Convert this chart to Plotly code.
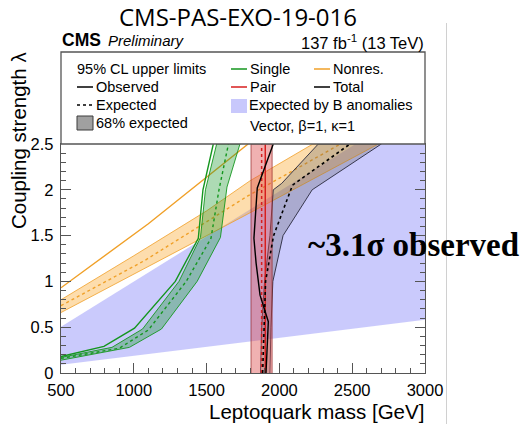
import plotly.graph_objects as go

# ---------------- data ----------------
# B-anomaly expected region (straight edges)
banom_x = [500, 3000]
banom_lo = [0.09, 0.58]
banom_hi = [0.505, 2.97]

# Non-resonant
nonres_obs_x = [500, 1100, 1785]
nonres_obs_y = [0.93, 1.63, 2.5]
nonres_exp_x = [500, 1077, 1780, 2420]
nonres_exp_y = [0.735, 1.23, 1.93, 2.5]
nonres_band_hi_x = [500, 1000, 1500, 1800, 2230]
nonres_band_hi_y = [0.80, 1.28, 1.77, 2.10, 2.5]
nonres_band_lo_x = [500, 1764, 2680]
nonres_band_lo_y = [0.66, 1.72, 2.5]

# Single production
single_obs_x = [500, 795, 1005, 1285, 1443, 1475, 1546]
single_obs_y = [0.18, 0.29, 0.49, 1.0, 1.47, 2.0, 2.5]
single_exp_x = [500, 900, 1100, 1360, 1530, 1585, 1650]
single_exp_y = [0.16, 0.27, 0.47, 1.0, 1.47, 2.0, 2.5]
single_band_in_x = [500, 850, 1060, 1310, 1458, 1492, 1569]
single_band_in_y = [0.17, 0.28, 0.48, 1.0, 1.48, 2.0, 2.5]
single_band_out_x = [500, 970, 1190, 1435, 1595, 1640, 1729]
single_band_out_y = [0.14, 0.28, 0.48, 1.0, 1.48, 2.03, 2.5]

# Pair production (independent of lambda)
pair_lam = [0, 2.5]
pair_obs_m = 1903
pair_exp_m = 1878
pair_band_lo_m = 1805
pair_band_hi_m = 1950

# Total
total_obs_x = [1908, 1913, 1924, 1867, 1840, 1825, 1848, 1958]
total_obs_y = [0, 0.2, 0.56, 0.85, 1.2, 1.47, 2.02, 2.5]
total_exp_x = [1885, 1893, 1905, 1960, 2090, 2485]
total_exp_y = [0, 0.5, 1.0, 1.5, 2.05, 2.5]
total_band_in_x = [1870, 1878, 1898, 1935, 1958, 2016, 2267]
total_band_in_y = [0, 0.5, 1.0, 1.5, 2.0, 2.07, 2.5]
total_band_out_x = [1935, 1942, 1955, 2025, 2225, 2700]
total_band_out_y = [0, 0.5, 1.0, 1.5, 2.0, 2.5]

x_ticks = [500, 1000, 1500, 2000, 2500, 3000]
y_ticks = [0, 0.5, 1, 1.5, 2, 2.5]

# ---------------- styles ----------------
SANS = "Liberation Sans, Arial, sans-serif"
C_BLUE = "rgba(150,150,250,0.5)"
C_GREEN = "rgb(20,150,30)"
C_GREEN_F = "rgba(20,150,40,0.35)"
C_ORANGE = "rgb(240,160,40)"
C_ORANGE_F = "rgba(250,165,40,0.38)"
C_RED = "rgb(215,30,30)"
C_RED_F = "rgba(220,70,70,0.42)"
C_GRAY_F = "rgba(90,90,90,0.28)"
FRAME = "#555555"


def band(xa, ya, xb, yb, fill, line=None, width=0):
    return go.Scatter(
        x=list(xa) + list(xb)[::-1], y=list(ya) + list(yb)[::-1],
        fill="toself", fillcolor=fill, mode="lines",
        line=dict(color=line or "rgba(0,0,0,0)", width=width),
        hoverinfo="skip", showlegend=False)


def curve(x, y, color, dash="solid", width=1.3):
    return go.Scatter(x=x, y=y, mode="lines",
                      line=dict(color=color, width=width, dash=dash),
                      hoverinfo="skip", showlegend=False)


fig = go.Figure()
# B anomalies region
fig.add_trace(band(banom_x, banom_lo, banom_x, banom_hi, C_BLUE))
# Non-resonant
fig.add_trace(band(nonres_band_hi_x, nonres_band_hi_y, nonres_band_lo_x, nonres_band_lo_y,
                   C_ORANGE_F, C_ORANGE, 0.8))
fig.add_trace(curve(nonres_exp_x, nonres_exp_y, C_ORANGE, "dot", 1.4))
fig.add_trace(curve(nonres_obs_x, nonres_obs_y, C_ORANGE, "solid", 1.4))
# Single
fig.add_trace(band(single_band_in_x, single_band_in_y, single_band_out_x, single_band_out_y,
                   C_GREEN_F, C_GREEN, 0.9))
fig.add_trace(curve(single_exp_x, single_exp_y, C_GREEN, "dot", 1.4))
fig.add_trace(curve(single_obs_x, single_obs_y, C_GREEN, "solid", 1.4))
# Total
fig.add_trace(band(total_band_in_x, total_band_in_y, total_band_out_x, total_band_out_y,
                   C_GRAY_F, "rgb(40,40,60)", 0.9))
# Pair
fig.add_trace(band([pair_band_lo_m] * 2, pair_lam, [pair_band_hi_m] * 2, pair_lam,
                   C_RED_F, "rgba(150,40,40,0.7)", 1))
fig.add_trace(curve([pair_exp_m] * 2, pair_lam, C_RED, "dot", 1.5))
fig.add_trace(curve([pair_obs_m] * 2, pair_lam, C_RED, "solid", 1.5))
# Total lines on top
fig.add_trace(curve(total_exp_x, total_exp_y, "black", "dot", 1.6))
fig.add_trace(curve(total_obs_x, total_obs_y, "black", "solid", 1.4))

# ---------------- layout ----------------
L, R, T, B = 61, 96, 144, 51
W, H = 521, 424
PW, PH = W - L - R, H - T - B


def px(xp):
    return (xp - L) / PW


def py(yp):
    return (H - B - yp) / PH


fig.update_layout(
    width=W, height=H, autosize=False,
    margin=dict(l=L, r=R, t=T, b=B, pad=0),
    paper_bgcolor="white", plot_bgcolor="white",
    font=dict(family=SANS, size=16, color="black"),
    showlegend=False,
)
fig.update_xaxes(
    range=[500, 3000], tickvals=x_ticks, ticktext=[str(v) for v in x_ticks],
    ticks="inside", ticklen=10, tickwidth=1, tickcolor=FRAME,
    minor=dict(ticks="inside", ticklen=5, dtick=100, tickcolor=FRAME, showgrid=False),
    showline=True, linecolor=FRAME, linewidth=1.3, mirror=True,
    showgrid=False, zeroline=False, tickfont=dict(size=16.5, family=SANS),
    ticklabelstandoff=2,
)
fig.update_yaxes(
    range=[0, 2.5], tickvals=y_ticks, ticktext=["0", "0.5", "1", "1.5", "2", "2.5"],
    ticks="inside", ticklen=10, tickwidth=1, tickcolor=FRAME,
    minor=dict(ticks="inside", ticklen=5, dtick=0.1, tickcolor=FRAME, showgrid=False),
    showline=True, linecolor=FRAME, linewidth=1.3, mirror="ticks",
    showgrid=False, zeroline=False, tickfont=dict(size=16.5, family=SANS),
    ticklabelstandoff=3,
)

shapes = []
# legend box above plot
shapes.append(dict(type="rect", xref="paper", yref="paper", x0=0, x1=1, y0=1, y1=py(52),
                   line=dict(color=FRAME, width=1.3), fillcolor="white", layer="above"))
# right-hand thin separator line of the slide
shapes.append(dict(type="line", xref="paper", yref="paper", x0=px(446.5), x1=px(446.5),
                   y0=py(23), y1=py(424), line=dict(color="#d0d0d0", width=1)))

# legend samples
row = {1: 69, 2: 87, 3: 105, 4: 123}
c1 = (77, 93)
c2 = (231, 247)
c3 = (314, 330)


def hline(cols, r, color, dash="solid", width=1.5):
    shapes.append(dict(type="line", xref="paper", yref="paper",
                       x0=px(cols[0]), x1=px(cols[1]), y0=py(row[r]), y1=py(row[r]),
                       line=dict(color=color, width=width, dash=dash), layer="above"))


hline(c1, 2, "black")
hline(c1, 3, "black", "dot", 1.5)
hline(c2, 1, C_GREEN)
hline(c2, 2, C_RED)
hline(c3, 1, C_ORANGE)
hline(c3, 2, "black")
shapes.append(dict(type="rect", xref="paper", yref="paper", x0=px(77), x1=px(93),
                   y0=py(130), y1=py(116), fillcolor="rgb(160,160,160)",
                   line=dict(color="rgb(60,60,60)", width=1), layer="above"))
shapes.append(dict(type="rect", xref="paper", yref="paper", x0=px(231), x1=px(247),
                   y0=py(113), y1=py(99), fillcolor="rgb(200,200,252)",
                   line=dict(width=0), layer="above"))
fig.update_layout(shapes=shapes)

ann = []


def text(s, xp, yp, size=14, xanchor="left", yanchor="middle", family=SANS, **kw):
    ann.append(dict(text=s, x=px(xp), y=py(yp), xref="paper", yref="paper",
                    xanchor=xanchor, yanchor=yanchor, showarrow=False,
                    font=dict(size=size, family=family, color="black"), **kw))


text("95% CL upper limits", 75, row[1], size=14.5)
text("Observed", 94, row[2], size=14.5)
text("Expected", 94, row[3], size=14.5)
text("68% expected", 94, row[4], size=14.5)
text("Single", 248, row[1], size=14.5)
text("Pair", 248, row[2], size=14.5)
text("Expected by B anomalies", 247, row[3], size=14.5)
text("Vector, β=1, κ=1", 248, 126, size=14.5)
text("Nonres.", 331, row[1], size=14.5)
text("Total", 331, row[2], size=14.5)

text("<b>CMS</b>", 60, 40, size=17.5)
text("<i>Preliminary</i>", 106, 41, size=15)
text("137 fb<sup>-1</sup> (13 TeV)", 426, 42, size=16.5, xanchor="right")
text("CMS-PAS-EXO-19-016", 238, 16, size=24, xanchor="center", family="Open Sans, sans-serif")

text("Leptoquark mass [GeV]", 426, 411, size=20.5, xanchor="right")
text("Coupling strength λ", 18, 141, size=20.5, xanchor="center", textangle=-90)

text("<b>~3.1σ observed</b>", 306, 245, size=33, family="Liberation Serif, serif")

fig.update_layout(annotations=ann)

fig.write_html("out.html")
